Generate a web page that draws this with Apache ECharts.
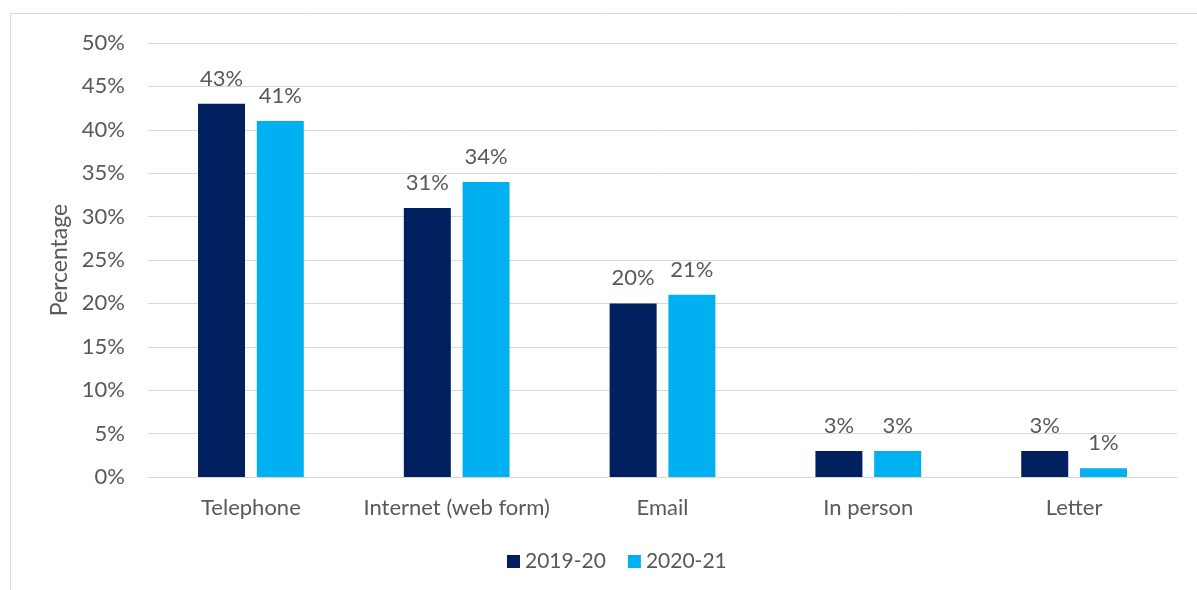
<!DOCTYPE html>
<html>
<head>
<meta charset="utf-8">
<script src="https://cdn.jsdelivr.net/npm/echarts@6/dist/echarts.min.js"></script>
<style>
  html, body { margin: 0; padding: 0; background: #fff; }
  #chart { width: 1197px; height: 590px; }
</style>
</head>
<body>
<div id="chart"></div>
<script>
const categories = ['Telephone', 'Internet (web form)', 'Email', 'In person', 'Letter'];
const values2019 = [43, 31, 20, 3, 3];
const values2020 = [41, 34, 21, 3, 1];
const seriesNames = ['2019-20', '2020-21'];

const textColor = '#595959';
const fontFamily = 'Lato, Carlito, Calibri, sans-serif';

const chart = echarts.init(document.getElementById('chart'));

chart.setOption({
  backgroundColor: '#fff',
  textStyle: { fontFamily: fontFamily },
  graphic: [{
    type: 'rect',
    shape: { x: 10.5, y: 13.5, width: 1200, height: 600 },
    style: { fill: 'none', stroke: '#d9d9d9', lineWidth: 1 },
    silent: true
  }],
  grid: { left: 148, right: 20, top: 43, bottom: 113 },
  legend: {
    data: seriesNames,
    top: 546,
    left: 502,
    itemWidth: 13,
    itemHeight: 13,
    itemGap: 22,
    icon: 'rect',
    textStyle: { color: textColor, fontSize: 21, fontFamily: fontFamily }
  },
  xAxis: {
    type: 'category',
    data: categories,
    axisLine: { lineStyle: { color: '#d9d9d9', width: 1 } },
    axisTick: { show: false },
    axisLabel: { color: textColor, fontSize: 22, margin: 20, interval: 0, fontFamily: fontFamily }
  },
  yAxis: {
    type: 'value',
    min: 0,
    max: 50,
    interval: 5,
    name: 'Percentage',
    nameLocation: 'middle',
    nameGap: 75,
    nameTextStyle: { color: textColor, fontSize: 23, fontFamily: fontFamily },
    axisLine: { show: false },
    axisTick: { show: false },
    axisLabel: { color: textColor, fontSize: 22, margin: 23, formatter: '{value}%', fontFamily: fontFamily },
    splitLine: { lineStyle: { color: '#d9d9d9', width: 1 } }
  },
  series: [
    {
      name: seriesNames[0],
      type: 'bar',
      data: values2019,
      barWidth: 47,
      barGap: '25%',
      itemStyle: { color: '#002060' },
      label: { show: true, position: 'top', formatter: '{c}%', color: textColor, fontSize: 22, distance: 14, fontFamily: fontFamily }
    },
    {
      name: seriesNames[1],
      type: 'bar',
      data: values2020,
      barWidth: 47,
      itemStyle: { color: '#00B0F0' },
      label: { show: true, position: 'top', formatter: '{c}%', color: textColor, fontSize: 22, distance: 14, fontFamily: fontFamily }
    }
  ]
});
</script>
</body>
</html>
